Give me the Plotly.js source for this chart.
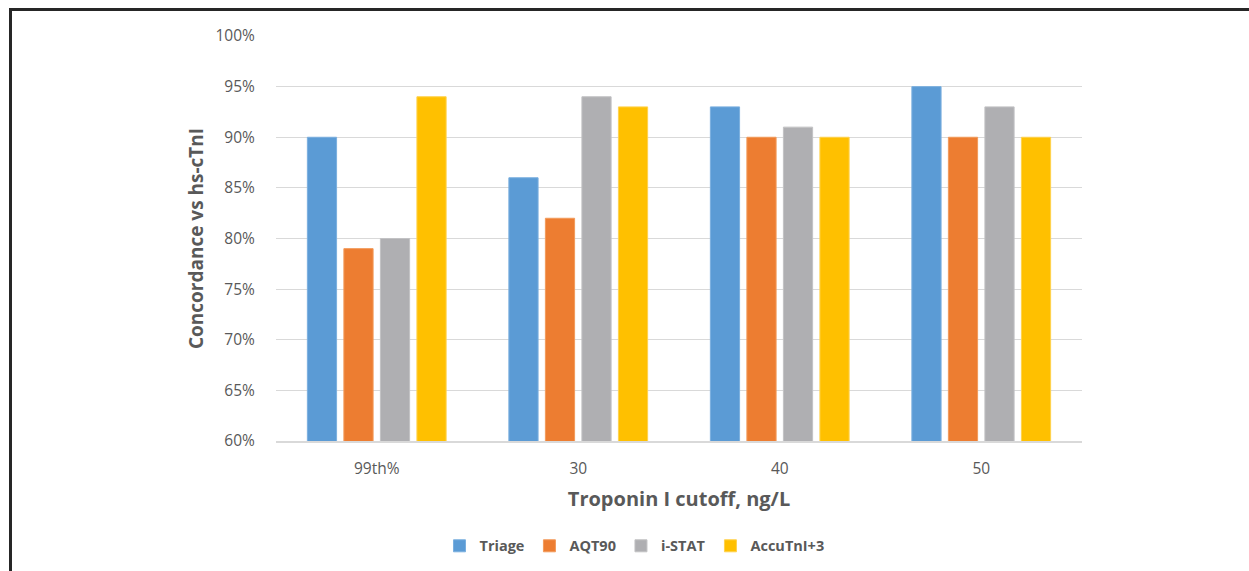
<!DOCTYPE html>
<html>
<head>
<meta charset="utf-8">
<script src="https://cdn.plot.ly/plotly-3.0.1.min.js"></script>
<style>
  html, body { margin: 0; padding: 0; background: #fff; }
  #wrap { position: relative; width: 1249px; height: 571px; overflow: hidden; }
  #chart { position: absolute; left: 0; top: 0; width: 1249px; height: 571px; }
  #frame { position: absolute; left: 9px; top: 8px; right: -10px; bottom: -10px;
           border-left: 3px solid #262626; border-top: 3px solid #262626; pointer-events: none; }
</style>
</head>
<body>
<div id="wrap">
  <div id="chart"></div>
  <div id="frame"></div>
</div>
<script>
// Troponin I cutoffs on the x axis
const cutoffs = ['99th%', '30', '40', '50'];

// Concordance with hs-cTnI for each point-of-care assay
const triage   = [0.90, 0.86, 0.93, 0.95];
const aqt90    = [0.79, 0.82, 0.90, 0.90];
const istat    = [0.80, 0.94, 0.91, 0.93];
const accuTnI  = [0.94, 0.93, 0.90, 0.90];

const seriesNames = ['Triage', 'AQT90', 'i-STAT', 'AccuTnI+3'];
const seriesColors = ['#5b9bd5', '#ed7d31', '#afafb2', '#ffc000'];
const seriesEdges = ['#7aafdf', '#f29a5a', '#c2c2c4', '#ffd24d'];
const seriesValues = [triage, aqt90, istat, accuTnI];

const labelFont = '"Open Sans", "DejaVu Sans", sans-serif';
const grey = '#595959';

const traces = seriesValues.map((vals, i) => ({
  type: 'bar',
  name: '<b>' + seriesNames[i] + '</b>',
  x: cutoffs,
  y: vals,
  marker: { color: seriesColors[i], line: { width: 1, color: seriesEdges[i] } },
  hoverinfo: 'x+y'
}));

const layout = {
  width: 1249,
  height: 571,
  margin: { l: 276, r: 167, t: 36, b: 130 },
  paper_bgcolor: '#ffffff',
  plot_bgcolor: '#ffffff',
  barmode: 'group',
  bargap: 0.275,
  bargroupgap: 0.2,
  font: { family: labelFont, color: grey, size: 15 },
  xaxis: {
    type: 'category',
    automargin: false,
    showgrid: false,
    showline: true,
    linecolor: '#d9d9d9',
    linewidth: 1.5,
    ticks: 'outside',
    ticklen: 13,
    tickcolor: 'rgba(0,0,0,0)',
    tickfont: { size: 15.5, color: grey },
    title: { text: '<b>Troponin I cutoff, ng/L</b>', font: { size: 20, color: grey }, standoff: 14 }
  },
  yaxis: {
    range: [0.6, 1.0],
    automargin: false,
    dtick: 0.05,
    tickformat: '.0%',
    showgrid: true,
    gridcolor: '#d9d9d9',
    gridwidth: 1,
    zeroline: false,
    ticks: 'outside',
    ticklen: 17,
    tickcolor: 'rgba(0,0,0,0)',
    tickfont: { size: 15.5, color: grey },
    title: { text: '<b>Concordance vs hs-cTnI</b>', font: { size: 19, color: grey }, standoff: 6 }
  },
  showlegend: true,
  legend: {
    orientation: 'h',
    xref: 'container',
    yref: 'container',
    x: 0.508,
    xanchor: 'center',
    y: 0.044,
    yanchor: 'middle',
    font: { size: 14.5, color: grey },
    itemwidth: 30,
    traceorder: 'normal'
  }
};

Plotly.newPlot('chart', traces, layout, { displayModeBar: false, staticPlot: true });
</script>
</body>
</html>
